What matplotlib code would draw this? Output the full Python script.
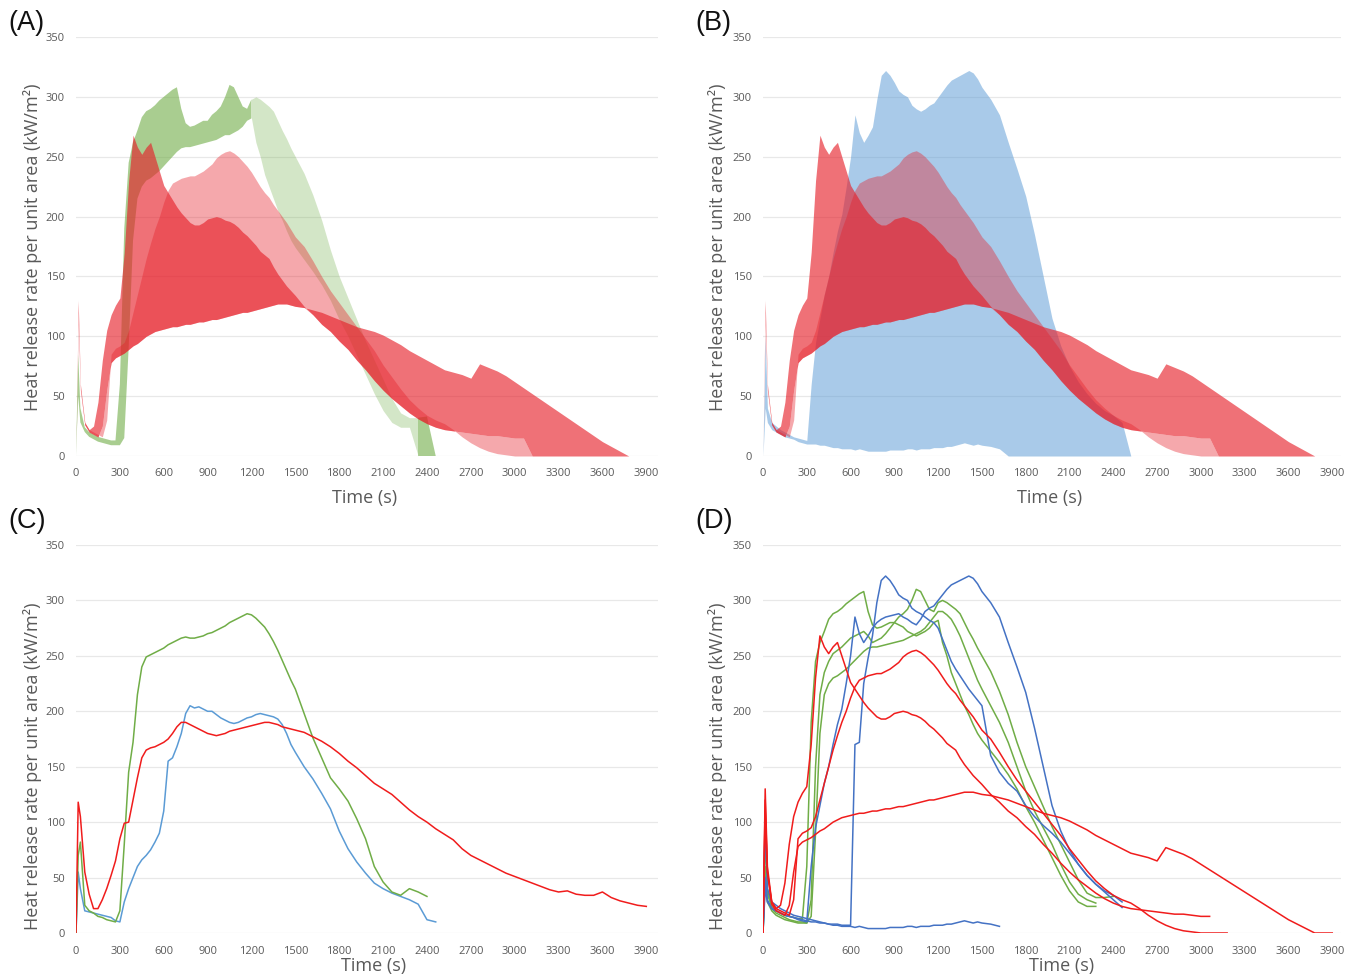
import numpy as np
import matplotlib
matplotlib.use("Agg")
import matplotlib.pyplot as plt

plt.rcParams['font.family'] = ['Open Sans', 'DejaVu Sans']

# ---------------------------------------------------------------------------
# Sampling times (s): 0, 15, 30, then every 30 s to 1500 s, then every 60 s
# ---------------------------------------------------------------------------
time_s = np.array([0, 15, 30] + list(range(60, 1501, 30)) + list(range(1560, 3901, 60)), float)
x_ticks = list(range(0, 3901, 300))
y_ticks = list(range(0, 351, 50))


def series(head, mid, tail):
    """head: 0/15/30 s, mid: 60..1500 s (30 s step), tail: 1560 s onwards (60 s step)."""
    assert len(head) == 3 and len(mid) == 49, (len(head), len(mid))
    values = np.full(time_s.size, np.nan)
    data = list(head) + list(mid) + list(tail)
    values[:len(data)] = data
    return values


# ---------------------------- individual tests -----------------------------
# red material, three tests
red_1 = series([0, 130, 60],
               [28, 22, 25, 45, 80, 105, 118, 126, 132, 170,
                230, 268, 258, 252, 258, 262, 250, 238, 226, 220,
                214, 208, 203, 199, 195, 193, 193, 195, 198, 199,
                200, 199, 197, 196, 194, 191, 187, 184, 180, 176,
                171, 168, 165, 158, 152, 147, 142, 138, 134],
               [125, 118, 110, 104, 96, 89, 80, 72, 63, 55,
                48, 42, 36, 31, 27, 24, 22, 21, 20, 19,
                18, 17, 17, 16, 15, 15])
red_2 = series([0, 110, 55],
               [28, 22, 20, 18, 16, 30, 85, 90, 92, 95,
                105, 120, 135, 150, 165, 178, 190, 200, 212, 222,
                228, 230, 232, 233, 234, 234, 236, 238, 241, 244,
                249, 252, 254, 255, 253, 250, 246, 242, 237, 231,
                225, 220, 216, 210, 205, 200, 195, 189, 183],
               [175, 163, 150, 138, 128, 118, 108, 98, 88, 76,
                66, 56, 47, 40, 34, 30, 27, 22, 16, 11,
                7, 4, 2, 1, 0, 0, 0, 0])
red_3 = series([0, 120, 55],
               [26, 20, 18, 16, 25, 55, 78, 82, 84, 86,
                89, 92, 94, 97, 100, 102, 104, 105, 106, 107,
                108, 108, 109, 110, 110, 111, 112, 112, 113, 114,
                114, 115, 116, 117, 118, 119, 120, 120, 121, 122,
                123, 124, 125, 126, 127, 127, 127, 126, 125],
               [124, 122, 120, 117, 114, 111, 108, 106, 104, 101,
                97, 93, 88, 84, 80, 76, 72, 70, 68, 65,
                77, 74, 71, 67, 62, 57, 52, 47, 42, 37,
                32, 27, 22, 17, 12, 8, 4, 0, 0, 0])

# green material, three tests
green_1 = series([0, 60, 35],
                 [24, 20, 18, 16, 15, 14, 13, 13, 60, 190,
                  245, 262, 272, 283, 288, 290, 293, 297, 300, 303,
                  306, 308, 290, 278, 275, 276, 278, 280, 280, 278,
                  276, 272, 270, 268, 270, 272, 275, 280, 282, 262,
                  250, 235, 225, 215, 205, 197, 188, 180, 174],
                 [164, 154, 143, 130, 114, 100, 84, 68, 52, 38,
                  28, 24, 24])
green_2 = series([0, 50, 28],
                 [20, 16, 14, 12, 11, 10, 9, 9, 9, 30,
                  150, 215, 235, 245, 252, 255, 258, 262, 266, 268,
                  270, 272, 268, 262, 264, 266, 270, 275, 280, 285,
                  288, 292, 300, 310, 308, 300, 292, 290, 298, 300,
                  298, 295, 292, 288, 280, 272, 265, 257, 250],
                 [236, 218, 197, 172, 150, 132, 114, 96, 80, 64,
                  48, 36, 32, 32, 33])
green_3 = series([0, 85, 40],
                 [22, 18, 16, 14, 12, 11, 10, 10, 9, 15,
                  90, 180, 215, 225, 230, 232, 235, 238, 242, 246,
                  250, 254, 257, 258, 258, 259, 260, 261, 262, 263,
                  264, 266, 268, 270, 272, 275, 280, 285, 290, 290,
                  287, 283, 276, 268, 258, 248, 238, 228, 220],
                 [205, 190, 172, 150, 128, 110, 95, 80, 62, 46,
                  35, 30, 27])

# blue material, three tests
blue_1 = series([0, 100, 40],
                [28, 25, 22, 20, 18, 16, 15, 14, 13, 12,
                 11, 10, 9, 8, 7, 7, 6, 6, 6, 5,
                 6, 5, 4, 4, 4, 4, 4, 5, 5, 5,
                 5, 6, 6, 5, 6, 6, 6, 7, 7, 7,
                 8, 8, 9, 10, 11, 10, 9, 10, 9],
                [8, 6])
blue_2 = series([0, 50, 30],
                [22, 20, 18, 16, 15, 14, 13, 12, 11, 10,
                 10, 9, 9, 8, 8, 8, 7, 7, 7, 170,
                 172, 225, 248, 268, 298, 318, 322, 318, 312, 305,
                 302, 300, 293, 290, 288, 285, 282, 280, 275, 265,
                 255, 245, 238, 232, 226, 220, 215, 210, 205],
                [160, 145, 135, 128, 115, 105, 97, 90, 82, 72,
                 62, 52, 44, 38, 34, 28])
blue_3 = series([0, 40, 28],
                [22, 20, 18, 16, 15, 14, 12, 11, 10, 60,
                 95, 115, 135, 150, 170, 188, 202, 225, 250, 285,
                 270, 262, 268, 275, 280, 283, 285, 286, 287, 288,
                 285, 283, 280, 278, 283, 290, 293, 295, 300, 305,
                 310, 314, 316, 318, 320, 322, 320, 315, 308],
                [298, 285, 262, 240, 217, 185, 150, 115, 92, 75,
                 62, 52, 44, 37, 30, 23])

# ------------------------------- mean curves -------------------------------
red_mean = series([0, 118, 105],
                  [55, 35, 22, 22, 30, 40, 52, 65, 85, 99,
                   100, 120, 140, 158, 165, 167, 168, 170, 172, 175,
                   180, 186, 190, 190, 188, 186, 184, 182, 180, 179,
                   178, 179, 180, 182, 183, 184, 185, 186, 187, 188,
                   189, 190, 190, 189, 188, 186, 185, 184, 183],
                  [181, 177, 173, 168, 162, 155, 149, 142, 135, 130,
                   125, 118, 111, 105, 100, 94, 89, 84, 76, 70,
                   66, 62, 58, 54, 51, 48, 45, 42, 39, 37,
                   38, 35, 34, 34, 37, 32, 29, 27, 25, 24])
green_mean = series([0, 70, 82],
                    [25, 20, 18, 15, 14, 12, 11, 10, 20, 80,
                     145, 172, 215, 240, 249, 251, 253, 255, 257, 260,
                     262, 264, 266, 267, 266, 266, 267, 268, 270, 271,
                     273, 275, 277, 280, 282, 284, 286, 288, 287, 284,
                     280, 276, 270, 263, 255, 246, 237, 228, 220],
                    [198, 176, 158, 140, 130, 119, 103, 85, 60, 46,
                     37, 34, 40, 37, 33])
blue_mean = series([0, 55, 40],
                   [20, 19, 18, 17, 16, 15, 14, 11, 10, 28,
                    40, 50, 60, 66, 70, 75, 82, 90, 110, 155,
                    158, 168, 180, 198, 205, 203, 204, 202, 200, 200,
                    197, 194, 192, 190, 189, 190, 192, 194, 195, 197,
                    198, 197, 196, 195, 193, 188, 180, 170, 163],
                   [150, 139, 126, 112, 92, 76, 64, 54, 45, 40,
                    36, 33, 30, 26, 12, 10])

# --------------------------------- styling ---------------------------------
RED_FILL = '#e61e28'
GREEN = '#70ad47'
BLUE_FILL = '#5b9bd5'
RED_LINE = '#f01c1c'
GREEN_LINE = '#70ad47'
BLUE_LINE_MEAN = '#5b9bd5'
BLUE_LINE = '#4472c4'
TICK_COLOR = '#595959'
LABEL_COLOR = '#595959'

W, H = 1345, 977
fig = plt.figure(figsize=(W / 100, H / 100), dpi=100)


def px_axes(left, right, bottom, top):
    return fig.add_axes([left / W, 1 - bottom / H, (right - left) / W, (bottom - top) / H])


ax_a = px_axes(76, 658, 456, 37)
ax_b = px_axes(763, 1341, 456, 37)
ax_c = px_axes(76, 658, 933, 545)
ax_d = px_axes(763, 1341, 933, 545)

xmax_left = 3980
xmax_right = 3960


def style(ax, xmax, xlab_pos, ylab_pos):
    ax.set_xlim(0, xmax)
    ax.set_ylim(0, 350)
    ax.set_xticks(x_ticks)
    ax.set_yticks(y_ticks)
    ax.grid(axis='y', color='#e8e8e8', lw=0.9)
    ax.grid(axis='x', visible=False)
    ax.set_axisbelow(True)
    for s in ax.spines.values():
        s.set_visible(False)
    ax.tick_params(axis='both', length=0, labelsize=8, labelcolor=TICK_COLOR)
    ax.tick_params(axis='x', pad=9)
    ax.tick_params(axis='y', pad=8)
    ax.text(xlab_pos[0], xlab_pos[1], 'Time (s)', transform=ax.transAxes,
            ha='center', va='center', fontsize=13, color=LABEL_COLOR)
    ax.text(ylab_pos[0], ylab_pos[1], 'Heat release rate per unit area (kW/m²)',
            transform=ax.transAxes, rotation=90, ha='center', va='center',
            fontsize=13, color=LABEL_COLOR)


def z(v):
    return np.nan_to_num(v, nan=0.0)


def red_band(ax):
    r1, r2, r3 = z(red_1), z(red_2), z(red_3)
    ax.fill_between(time_s, r1, r3, color=RED_FILL, alpha=0.63, lw=0)
    ax.fill_between(time_s, r2, np.minimum(r1, r3), color=RED_FILL, alpha=0.385, lw=0)


def green_band(ax):
    g1, g2, g3 = z(green_1), z(green_2), z(green_3)
    lo = np.minimum(np.minimum(g1, g2), g3)
    hi = np.maximum(np.maximum(g1, g2), g3)
    # lighter shade over the falling part while the first test is still burning
    pale = (~np.isnan(green_1)) & (time_s >= 1230)
    pale_ext = pale | np.roll(pale, 1) | np.roll(pale, -1)
    ax.fill_between(time_s, lo, hi, where=pale_ext, color=GREEN, alpha=0.3, lw=0)
    ax.fill_between(time_s, lo, hi, where=~pale, color=GREEN, alpha=0.6, lw=0)


def blue_band(ax):
    b1, b2, b3 = z(blue_1), z(blue_2), z(blue_3)
    lo = np.minimum(np.minimum(b1, b2), b3)
    hi = np.maximum(np.maximum(b1, b2), b3)
    ax.fill_between(time_s, lo, hi, color=BLUE_FILL, alpha=0.52, lw=0)


# (A) red and green envelopes
green_band(ax_a)
red_band(ax_a)
style(ax_a, xmax_left, (0.495, -0.100), (-0.0756, 0.499))

# (B) red and blue envelopes
blue_band(ax_b)
red_band(ax_b)
style(ax_b, xmax_right, (0.495, -0.100), (-0.0779, 0.499))

# (C) mean curves
ax_c.plot(time_s, blue_mean, color=BLUE_LINE_MEAN, lw=1.1)
ax_c.plot(time_s, green_mean, color=GREEN_LINE, lw=1.1)
ax_c.plot(time_s, red_mean, color=RED_LINE, lw=1.1)
style(ax_c, xmax_left, (0.512, -0.085), (-0.0756, 0.430))

# (D) individual tests
for g in (green_1, green_2, green_3):
    ax_d.plot(time_s, g, color=GREEN_LINE, lw=1.1)
for b in (blue_1, blue_2, blue_3):
    ax_d.plot(time_s, b, color=BLUE_LINE, lw=1.1)
for r in (red_1, red_2, red_3):
    ax_d.plot(time_s, r, color=RED_LINE, lw=1.1)
style(ax_d, xmax_right, (0.516, -0.085), (-0.0779, 0.430))

# panel letters
for letter, xp, yp in (('(A)', 8, 10), ('(B)', 695, 10), ('(C)', 8, 508), ('(D)', 695, 508)):
    fig.text(xp / W, 1 - yp / H, letter, ha='left', va='top', fontsize=19.5,
             family=['Liberation Sans', 'DejaVu Sans'], color='#111111')

fig.savefig('out.png', dpi=100)
